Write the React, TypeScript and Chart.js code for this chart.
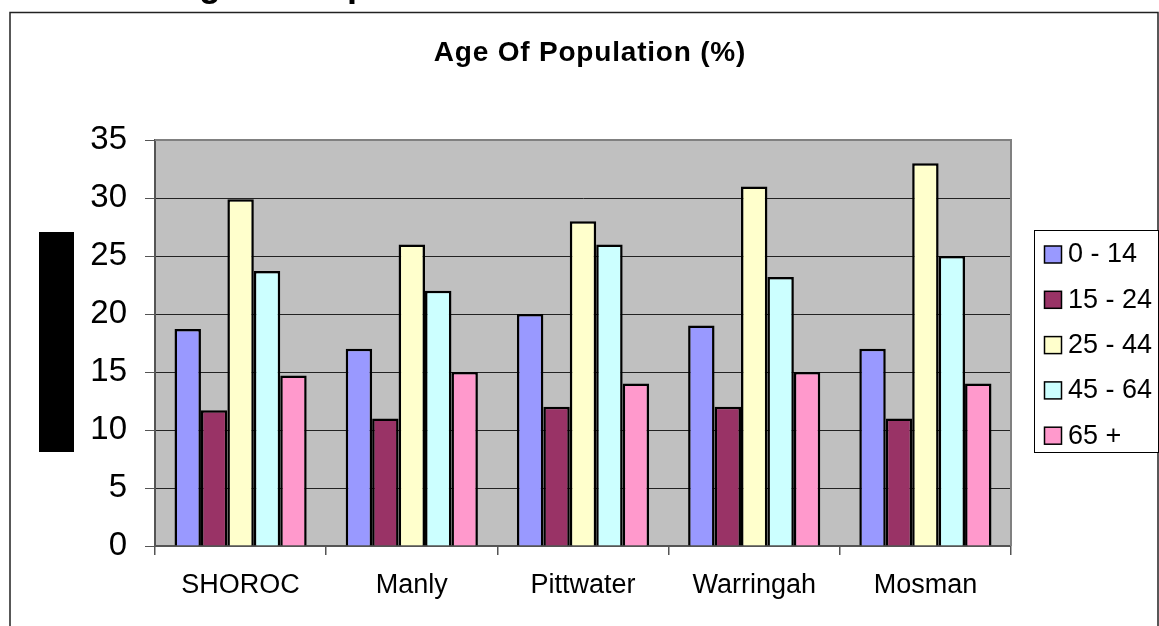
import React, { useEffect, useRef } from "react";
import { Chart, registerables } from "chart.js";

Chart.register(...registerables);

const categories = ["SHOROC", "Manly", "Pittwater", "Warringah", "Mosman"];
const seriesLabels = ["0 - 14", "15 - 24", "25 - 44", "45 - 64", "65 +"];
const age0to14 = [18.7, 17, 20, 19, 17];
const age15to24 = [11.7, 11, 12, 12, 11];
const age25to44 = [29.9, 26, 28, 31, 33];
const age45to64 = [23.7, 22, 26, 23.2, 25];
const age65plus = [14.7, 15, 14, 15, 14];
const seriesValues = [age0to14, age15to24, age25to44, age45to64, age65plus];
const seriesColors = ["#9999FF", "#993366", "#FFFFCC", "#CCFFFF", "#FF99CC"];
const yMin = 0;
const yMax = 35;
const yStep = 5;
const chartTitle = "Age Of Population (%)";
const pageHeading = "Age Of Population";

const FONT = "'Liberation Sans', Arial, sans-serif";

const decor = {
  id: "decor",
  beforeDraw(chart: any) {
    const { ctx, chartArea, width, height } = chart;
    ctx.save();
    ctx.fillStyle = "#FFFFFF";
    ctx.fillRect(0, 0, width, height);
    // cut-off page heading
    ctx.fillStyle = "#000";
    ctx.font = `bold 36px ${FONT}`;
    ctx.textBaseline = "alphabetic";
    ctx.textAlign = "left";
    ctx.fillText(pageHeading, 173, -4);
    // outer frame
    ctx.strokeStyle = "#222";
    ctx.lineWidth = 1.5;
    ctx.beginPath();
    ctx.moveTo(10, height + 5);
    ctx.lineTo(10, 12.5);
    ctx.lineTo(1158, 12.5);
    ctx.lineTo(1158, height + 5);
    ctx.stroke();
    // black block (axis title placeholder)
    ctx.fillStyle = "#000";
    ctx.fillRect(39, 232, 35, 220);
    // title
    ctx.font = `bold 28px ${FONT}`;
    ctx.textAlign = "center";
    ctx.textBaseline = "middle";
    (ctx as any).letterSpacing = "0.8px";
    ctx.fillText(chartTitle, 590, 53);
    (ctx as any).letterSpacing = "0px";
    // plot background
    ctx.fillStyle = "#C0C0C0";
    ctx.fillRect(
      chartArea.left,
      chartArea.top,
      chartArea.right - chartArea.left,
      chartArea.bottom - chartArea.top
    );
    ctx.restore();
  },
  beforeDatasetsDraw(chart: any) {
    const { ctx, chartArea } = chart;
    ctx.save();
    ctx.strokeStyle = "#808080";
    ctx.lineWidth = 2;
    ctx.beginPath();
    ctx.moveTo(chartArea.left, chartArea.top);
    ctx.lineTo(chartArea.right, chartArea.top);
    ctx.lineTo(chartArea.right, chartArea.bottom);
    ctx.stroke();
    ctx.restore();
  },
  afterDraw(chart: any) {
    const { ctx } = chart;
    ctx.save();
    // legend
    ctx.strokeStyle = "#000";
    ctx.lineWidth = 1;
    ctx.fillStyle = "#FFFFFF";
    ctx.fillRect(1034.5, 230.5, 124, 222);
    ctx.strokeRect(1034.5, 230.5, 124, 222);
    ctx.font = `27px ${FONT}`;
    ctx.textAlign = "left";
    ctx.textBaseline = "middle";
    chart.data.datasets.forEach((ds: any, i: number) => {
      const cy = 254 + i * 45.3;
      ctx.fillStyle = ds.backgroundColor;
      ctx.fillRect(1044.5, cy - 8, 17, 17);
      ctx.lineWidth = 1.5;
      ctx.strokeStyle = "#000";
      ctx.strokeRect(1044.5, cy - 8, 17, 17);
      ctx.fillStyle = "#000";
      ctx.fillText(ds.label, 1068, cy + 1);
    });
    ctx.restore();
  },
};

export default function App() {
  const ref = useRef<HTMLCanvasElement | null>(null);
  useEffect(() => {
    if (!ref.current) return;
    const chart = new Chart(ref.current, {
      type: "bar",
      data: {
        labels: categories,
        datasets: seriesLabels.map((label, i) => ({
          label,
          data: seriesValues[i],
          backgroundColor: seriesColors[i],
          borderColor: "#000000",
          borderWidth: 2.5,
          categoryPercentage: 0.772,
          barPercentage: 1,
        })),
      },
      options: {
        animation: false,
        responsive: false,
        maintainAspectRatio: false,
        layout: { padding: { left: 0, right: 148, top: 140, bottom: 0 } },
        plugins: {
          legend: { display: false },
          title: { display: false },
          tooltip: { enabled: false },
        },
        scales: {
          x: {
            type: "category",
            grid: {
              display: true,
              offset: true,
              drawOnChartArea: false,
              drawTicks: true,
              tickLength: 9,
              color: "#555",
              lineWidth: 1.5,
            },
            border: { display: true, color: "#555", width: 2 },
            ticks: {
              color: "#000",
              font: { family: FONT, size: 27 },
              padding: 14,
              maxRotation: 0,
            },
            afterFit: (s: any) => {
              s.height = 80;
            },
          },
          y: {
            min: yMin,
            max: yMax,
            ticks: {
              stepSize: yStep,
              color: "#000",
              font: { family: FONT, size: 33 },
              padding: 18,
            },
            grid: {
              color: "#222",
              lineWidth: 1,
              tickLength: 10,
              tickColor: "#555",
            },
            border: { display: true, color: "#555", width: 2 },
            afterFit: (s: any) => {
              s.width = 155;
            },
          },
        },
      },
      plugins: [decor],
    });
    return () => chart.destroy();
  }, []);
  return (
    <div
      style={{
        position: "fixed",
        left: 0,
        top: 0,
        width: 1159,
        height: 626,
        background: "#fff",
      }}
    >
      <canvas ref={ref} width={1159} height={626} style={{ display: "block" }} />
    </div>
  );
}
